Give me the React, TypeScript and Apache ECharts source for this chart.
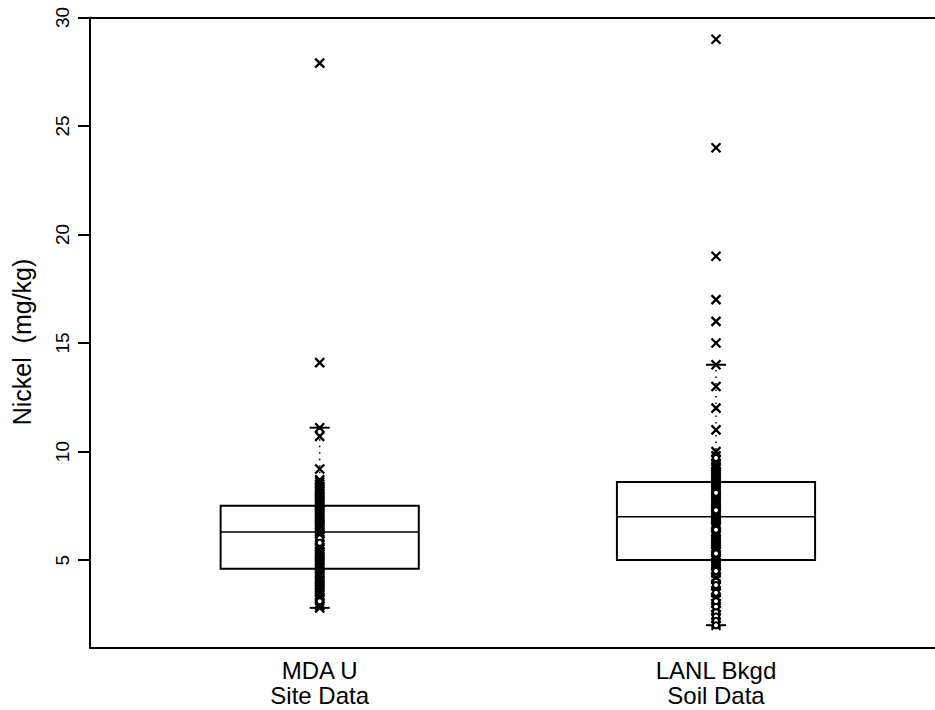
import React, { useEffect, useRef } from "react";
import * as echarts from "echarts";

// ---- Data ----
const groupNames = ["MDA U\nSite Data", "LANL Bkgd\nSoil Data"];
const groupPositions = [1, 2];

// box statistics per group: [lower whisker, Q1, median, Q3, upper whisker]
const whiskerLow = [2.8, 2.0];
const quartile1 = [4.6, 5.0];
const medians = [6.3, 7.0];
const quartile3 = [7.5, 8.6];
const whiskerHigh = [11.1, 14.0];

// individual observations (crosses = detects, circles = non-detects)
const mdaDetects = [27.9, 14.1, 11.1, 10.7, 9.2, 8.7, 8.6, 8.5, 8.4, 8.3, 8.2, 8.1, 8.0, 7.9, 7.8, 7.7, 7.6, 7.5, 7.4, 7.3, 7.2, 7.1, 7.0, 6.9, 6.8, 6.7, 6.6, 6.5, 6.4, 6.3, 6.2, 6.1, 5.9, 5.7, 5.6, 5.5, 5.4, 5.3, 5.2, 5.1, 5.0, 4.9, 4.8, 4.7, 4.6, 4.5, 4.4, 4.3, 4.2, 4.1, 4.0, 3.9, 3.8, 3.7, 3.6, 3.5, 3.4, 3.3, 3.2, 3.0, 2.9, 2.8];
const mdaNondetects = [10.9, 6.0, 5.8, 3.1];
const lanlDetects = [29, 24, 19, 17, 16, 15, 14, 13, 12, 11, 10, 9.8, 9.6, 9.4, 9.3, 9.2, 9.1, 9.0, 8.9, 8.8, 8.7, 8.6, 8.5, 8.4, 8.3, 8.2, 8.1, 8.0, 7.9, 7.8, 7.7, 7.6, 7.5, 7.4, 7.3, 7.2, 7.1, 7.0, 6.9, 6.8, 6.7, 6.6, 6.5, 6.3, 6.2, 6.1, 6.0, 5.9, 5.8, 5.7, 5.6, 5.5, 5.4, 5.2, 5.1, 5.0, 4.9, 4.8, 4.7, 4.6, 4.5, 4.4, 4.2, 4.1, 3.9, 3.8, 3.6, 3.5, 3.3, 3.2, 3.0, 2.8, 2.7, 2.5, 2.3, 2.1, 2.0];
const lanlNondetects = [9.7, 8.1, 7.3, 6.4, 5.3, 4.5, 4.0, 3.85, 3.5, 3.1, 2.85, 2.6, 2.4, 2.2, 2.0];

const yTicks = [5, 10, 15, 20, 25, 30];
const yMin = 0.95;
const yMax = 30;
const yTitle = "Nickel  (mg/kg)";

const FONT = "'Liberation Sans', Arial, Helvetica, sans-serif";
const CROSS = "path://M0,0L10,10M10,0L0,10";

export default function App() {
  const ref = useRef<HTMLDivElement | null>(null);

  useEffect(() => {
    if (!ref.current) return;
    const chart = echarts.init(ref.current, null, { renderer: "svg" });

    const boxData = groupPositions.map((x, i) => [
      x,
      whiskerLow[i],
      quartile1[i],
      medians[i],
      quartile3[i],
      whiskerHigh[i],
    ]);

    const detects = [
      ...mdaDetects.map((v) => [groupPositions[0], v]),
      ...lanlDetects.map((v) => [groupPositions[1], v]),
    ];
    const nondetects = [
      ...mdaNondetects.map((v) => [groupPositions[0], v]),
      ...lanlNondetects.map((v) => [groupPositions[1], v]),
    ];

    const boxHalfWidth = 0.25;
    const capHalf = 10;
    const axisLine = { show: true, lineStyle: { color: "#000", width: 2 } };

    chart.setOption({
      animation: false,
      backgroundColor: "#ffffff",
      grid: {
        left: 90,
        top: 17.5,
        right: 0,
        bottom: 62,
      },
      graphic: [
        {
          type: "text",
          x: 22,
          y: 342,
          rotation: Math.PI / 2,
          style: {
            text: yTitle,
            fill: "#000",
            font: `25px ${FONT}`,
            align: "center",
            verticalAlign: "middle",
          },
        },
      ],
      xAxis: [
        {
          type: "value",
          position: "bottom",
          min: 0.4204,
          max: 2.5526,
          axisLine: { ...axisLine, onZero: false },
          axisTick: { show: false },
          splitLine: { show: false },
          axisLabel: {
            customValues: groupPositions,
            formatter: (v: number) => {
              const idx = groupPositions.indexOf(Math.round(v));
              return idx >= 0 ? groupNames[idx] : "";
            },
            color: "#000",
            fontFamily: FONT,
            fontSize: 24,
            lineHeight: 25,
            margin: 10,
          },
        },
        {
          type: "value",
          position: "top",
          min: 0.4204,
          max: 2.5526,
          axisLine: { ...axisLine, onZero: false },
          axisTick: { show: false },
          axisLabel: { show: false },
          splitLine: { show: false },
        },
      ],
      yAxis: {
        type: "value",
        min: yMin,
        max: yMax,
        axisLine: { ...axisLine, onZero: false },
        splitLine: { show: false },
        axisTick: {
          show: true,
          customValues: yTicks,
          length: 12,
          lineStyle: { color: "#000", width: 2 },
        },
        axisLabel: {
          customValues: yTicks,
          rotate: 90,
          margin: 18,
          color: "#000",
          fontFamily: FONT,
          fontSize: 19,
        },
      },
      series: [
        {
          type: "custom",
          data: boxData,
          z: 1,
          renderItem: (params: any, api: any) => {
            const x = api.value(0);
            const lo = api.value(1);
            const q1 = api.value(2);
            const med = api.value(3);
            const q3 = api.value(4);
            const hi = api.value(5);
            const halfW = api.size([boxHalfWidth, 0])[0];
            const pLo = api.coord([x, lo]);
            const pQ1 = api.coord([x, q1]);
            const pMed = api.coord([x, med]);
            const pQ3 = api.coord([x, q3]);
            const pHi = api.coord([x, hi]);
            const cx = pMed[0];
            const dotted = { stroke: "#000", lineWidth: 1.5, lineDash: [1.5, 5] };
            const solid = { stroke: "#000", lineWidth: 2 };
            return {
              type: "group",
              children: [
                { type: "line", shape: { x1: cx, y1: pQ3[1], x2: cx, y2: pHi[1] }, style: dotted },
                { type: "line", shape: { x1: cx, y1: pQ1[1], x2: cx, y2: pLo[1] }, style: dotted },
                { type: "line", shape: { x1: cx - capHalf, y1: pHi[1], x2: cx + capHalf, y2: pHi[1] }, style: solid },
                { type: "line", shape: { x1: cx - capHalf, y1: pLo[1], x2: cx + capHalf, y2: pLo[1] }, style: solid },
                {
                  type: "rect",
                  shape: { x: cx - halfW, y: pQ3[1], width: 2 * halfW, height: pQ1[1] - pQ3[1] },
                  style: { fill: "none", stroke: "#000", lineWidth: 2 },
                },
                { type: "line", shape: { x1: cx - halfW, y1: pMed[1], x2: cx + halfW, y2: pMed[1] }, style: { stroke: "#000", lineWidth: 1.5 } },
              ],
            };
          },
        },
        {
          type: "scatter",
          data: detects,
          z: 3,
          symbol: CROSS,
          symbolSize: 9,
          itemStyle: { color: "transparent", borderColor: "#000", borderWidth: 2.3, opacity: 1 },
        },
        {
          type: "scatter",
          data: nondetects,
          z: 4,
          symbol: "emptyCircle",
          symbolSize: 6,
          itemStyle: { color: "#000", borderColor: "#000", borderWidth: 1.2, opacity: 1 },
        },
      ],
    });

    return () => chart.dispose();
  }, []);

  return (
    <div
      ref={ref}
      style={{ position: "fixed", left: 0, top: 0, width: 935, height: 710, background: "#fff" }}
    />
  );
}
